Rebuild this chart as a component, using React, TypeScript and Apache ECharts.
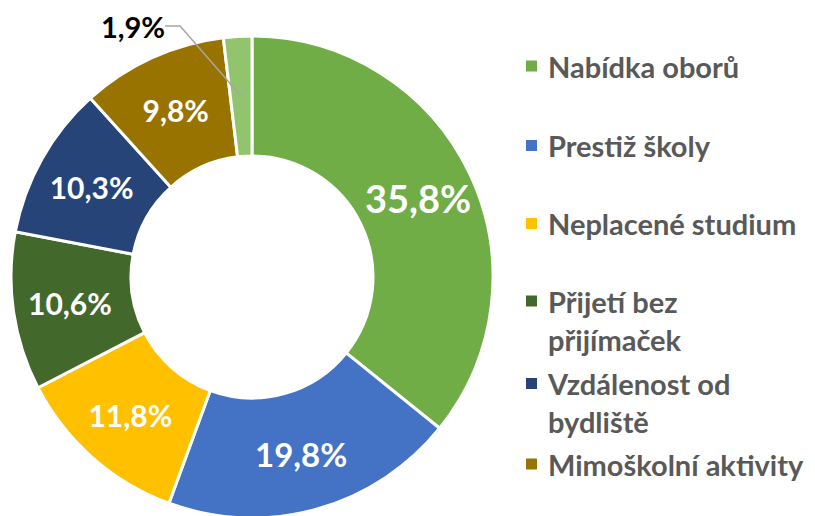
import React, { useEffect, useRef } from "react";
import * as echarts from "echarts";

const categories = [
  "Nabídka oborů",
  "Prestiž školy",
  "Neplacené studium",
  "Přijetí bez přijímaček",
  "Vzdálenost od bydliště",
  "Mimoškolní aktivity",
  "Ostatní",
];
const values = [35.8, 19.8, 11.8, 10.6, 10.3, 9.8, 1.9];
const colors = ["#70AD47", "#4472C4", "#FFC000", "#43682B", "#264478", "#997300", "#91C46C"];
const legendLabels = [
  "Nabídka oborů",
  "Prestiž školy",
  "Neplacené studium",
  "Přijetí bez\npřijímaček",
  "Vzdálenost od\nbydliště",
  "Mimoškolní aktivity",
];
const legendIconCenters = [66, 145.5, 223.5, 301, 383.5, 464];

const FONT = "Lato, 'Open Sans', sans-serif";
const LH = 38;
const TALL_ICON = "path://M0,0L0,0M0,13.5L11,13.5L11,24.5L0,24.5ZM0,76L0,76";

const fmt = (v: number) => v.toFixed(1).replace(".", ",") + "%";

export default function App() {
  const ref = useRef<HTMLDivElement>(null);
  useEffect(() => {
    if (!ref.current) return;
    const chart = echarts.init(ref.current, null, { renderer: "svg" });
    const legends = legendLabels.map((lbl, i) => {
      const twoLine = lbl.includes("\n");
      return {
        show: true,
        data: [categories[i]],
        orient: "vertical",
        left: 526,
        top: legendIconCenters[i] - 19,
        padding: 0,
        itemWidth: 11,
        itemHeight: twoLine ? 76 : 11,
        icon: twoLine ? TALL_ICON : "rect",
        itemStyle: { borderWidth: 0 },
        selectedMode: false,
        formatter: () => lbl,
        textStyle: {
          fontFamily: FONT,
          fontWeight: "bold",
          fontSize: 29,
          color: "#595959",
          lineHeight: LH,
          padding: [0, 0, 0, 6],
        },
      };
    });
    chart.setOption({
      animation: false,
      legend: legends,
      series: [
        {
          type: "pie",
          z: 2,
          center: [252, 277],
          radius: [121, 241],
          startAngle: 90,
          clockwise: true,
          avoidLabelOverlap: false,
          itemStyle: { borderColor: "#fff", borderWidth: 3 },
          label: {
            show: true,
            position: "inside",
            fontFamily: FONT,
            fontWeight: "bold",
            fontSize: 30,
            color: "#fff",
            formatter: (p: any) => fmt(p.value),
          },
          labelLine: { show: false },
          emphasis: { disabled: true },
          data: categories.map((name, i) => {
            const item: any = { name, value: values[i], itemStyle: { color: colors[i] } };
            if (i === 0) item.label = { fontSize: 38 };
            if (i === 1) item.label = { fontSize: 33 };
            if (i === 6) item.label = { show: false };
            return item;
          }),
        },
        {
          // invisible helper ring whose edge sits at the middle of the donut,
          // so the leader line of the small slice starts inside the slice
          type: "pie",
          z: 6,
          silent: true,
          center: [252, 277],
          radius: [0, 181],
          startAngle: 90,
          clockwise: true,
          avoidLabelOverlap: false,
          itemStyle: { color: "rgba(0,0,0,0)", borderWidth: 0 },
          label: { show: false },
          labelLine: { show: false },
          emphasis: { disabled: true },
          labelLayout: (params: any) =>
            params.dataIndex === 6
              ? { x: 133, y: 26, align: "center", verticalAlign: "middle" }
              : {},
          data: categories.map((name, i) => {
            const item: any = { name, value: values[i] };
            if (i === 6) {
              item.label = {
                show: true,
                position: "outside",
                color: "#000",
                fontFamily: FONT,
                fontWeight: "bold",
                fontSize: 29,
                formatter: (p: any) => fmt(p.value),
              };
              item.labelLine = {
                show: true,
                length: 20,
                length2: 15,
                lineStyle: { color: "#A6A6A6", width: 1.5 },
              };
            }
            return item;
          }),
        },
      ],
    });
    return () => chart.dispose();
  }, []);
  return (
    <div
      ref={ref}
      style={{ position: "absolute", left: 0, top: 0, width: 815, height: 516, background: "#fff" }}
    />
  );
}
